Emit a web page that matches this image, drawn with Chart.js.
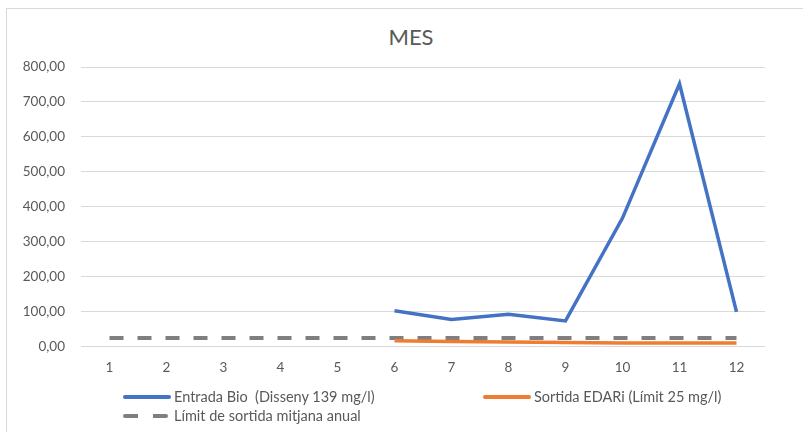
<!DOCTYPE html>
<html>
<head>
<meta charset="utf-8">
<script src="https://cdn.jsdelivr.net/npm/chart.js@4/dist/chart.umd.min.js"></script>
<style>
  html, body { margin: 0; padding: 0; background: #fff; }
  body { width: 803px; height: 432px; position: relative; overflow: hidden; font-family: Lato, "Liberation Sans", sans-serif; color: #595959; }
  #frame { position: absolute; left: 6px; top: 8px; width: 830px; height: 450px; border: 1px solid #d9d9d9; }
  #title { position: absolute; left: 0; width: 822px; top: 24px; text-align: center; font-size: 22px; line-height: 26px; }
  #wrap { position: absolute; left: 0; top: 0; width: 803px; height: 432px; }
  .leg { position: absolute; font-size: 14.5px; line-height: 18px; white-space: pre; }
  .leg .sw { position: absolute; left: 0; top: 7px; width: 48px; height: 4px; border-radius: 2px; }
  .leg span.tx { position: absolute; left: 51px; top: 0; }
</style>
</head>
<body>
<div id="frame"></div>
<div id="title">MES</div>
<div id="wrap"><canvas id="c" width="803" height="432"></canvas></div>
<div id="legend"></div>
<script>
(function () {
  "use strict";

  // Month numbers on the category axis.
  const months = ["1", "2", "3", "4", "5", "6", "7", "8", "9", "10", "11", "12"];

  // Series (mg/l); no data before month 6.
  const entradaBio = [null, null, null, null, null, 103, 78, 93, 74, 368, 752, 100];
  const sortidaEdari = [null, null, null, null, null, 17, 15, 14, 12, 11, 11, 11];
  const limitSortida = [25, 25, 25, 25, 25, 25, 25, 25, 25, 25, 25, 25];

  const yTicks = [0, 100, 200, 300, 400, 500, 600, 700, 800];

  const COLORS = {
    blue: "#4472c4",
    orange: "#ed7d31",
    gray: "#7f7f7f",
    grid: "#d9d9d9",
    text: "#595959",
  };

  const FONT = "Lato, 'Liberation Sans', sans-serif";

  /** "800,00" style label (comma as decimal mark). */
  function fmt(v) {
    return v.toFixed(2).replace(".", ",");
  }

  const datasets = [
    { label: "Entrada Bio  (Disseny 139 mg/l)", data: entradaBio, borderColor: COLORS.blue, borderWidth: 3.5 },
    { label: "Sortida EDARi (Límit 25 mg/l)", data: sortidaEdari, borderColor: COLORS.orange, borderWidth: 3.5 },
    { label: "Límit de sortida mitjana anual", data: limitSortida, borderColor: COLORS.gray, borderWidth: 4, borderDash: [14, 14] },
  ].map(function (d) {
    return Object.assign({ pointRadius: 0, fill: false, tension: 0, backgroundColor: d.borderColor }, d);
  });

  new Chart(document.getElementById("c").getContext("2d"), {
    type: "line",
    data: { labels: months, datasets: datasets },
    options: {
      responsive: false,
      animation: false,
      layout: { padding: { left: 0, right: 38, top: 67, bottom: 51 } },
      plugins: { legend: { display: false }, title: { display: false }, tooltip: { enabled: false } },
      scales: {
        x: {
          offset: true,
          grid: { display: false },
          border: { display: false },
          ticks: { color: COLORS.text, padding: 5, font: { family: FONT, size: 13.5 }, maxRotation: 0 },
        },
        y: {
          min: 0,
          max: 800,
          afterBuildTicks: function (s) { s.ticks = yTicks.map(function (v) { return { value: v }; }); },
          afterFit: function (s) { s.width = 81; },
          grid: { color: COLORS.grid, lineWidth: 1, drawTicks: false },
          border: { display: false },
          ticks: { color: COLORS.text, padding: 16, font: { family: FONT, size: 13.5 }, callback: fmt },
        },
      },
    },
  });

  // ------------------------------------------------------------ legend
  // Two-column Excel-style legend below the axis, built from the datasets.
  const legendPos = [[123, 388], [483, 388], [123, 407]];
  const legend = document.getElementById("legend");
  datasets.forEach(function (d, i) {
    const item = document.createElement("div");
    item.className = "leg";
    item.style.left = legendPos[i][0] + "px";
    item.style.top = legendPos[i][1] + "px";
    const sw = document.createElement("div");
    sw.className = "sw";
    if (d.borderDash) {
      sw.style.width = "45px";
      sw.style.background = "repeating-linear-gradient(90deg," + d.borderColor + " 0 15px, transparent 15px 30px)";
    } else {
      sw.style.background = d.borderColor;
    }
    const tx = document.createElement("span");
    tx.className = "tx";
    tx.textContent = d.label;
    item.appendChild(sw);
    item.appendChild(tx);
    legend.appendChild(item);
  });
})();
</script>
</body>
</html>
